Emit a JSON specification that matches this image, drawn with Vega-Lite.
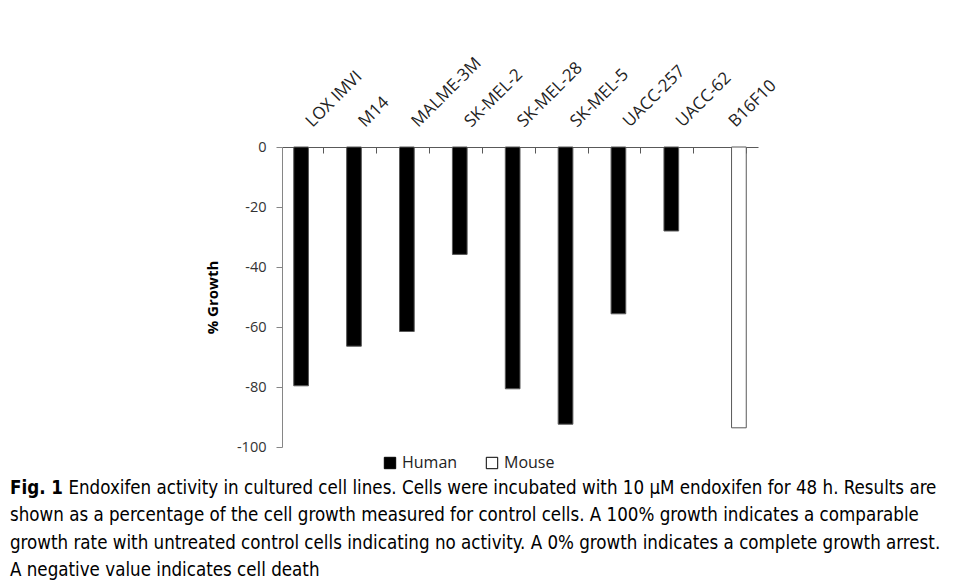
{
  "$schema": "https://vega.github.io/schema/vega-lite/v6.json",
  "autosize": "none",
  "width": 476,
  "height": 300,
  "padding": {"left": 282, "top": 147, "right": 199, "bottom": 138},
  "background": "white",
  "data": {
    "values": [
      {"cell": "LOX IMVI", "species": "Human", "growth": -79.6},
      {"cell": "M14", "species": "Human", "growth": -66.4},
      {"cell": "MALME-3M", "species": "Human", "growth": -61.5},
      {"cell": "SK-MEL-2", "species": "Human", "growth": -35.8},
      {"cell": "SK-MEL-28", "species": "Human", "growth": -80.6},
      {"cell": "SK-MEL-5", "species": "Human", "growth": -92.4},
      {"cell": "UACC-257", "species": "Human", "growth": -55.6},
      {"cell": "UACC-62", "species": "Human", "growth": -28.0},
      {"cell": "B16F10", "species": "Mouse", "growth": -93.6}
    ]
  },
  "title": {
    "text": "Fig. 1",
    "subtitle": [
      "\u200b\u00a0\u00a0\u00a0\u00a0\u00a0\u00a0\u00a0\u00a0\u00a0\u00a0\u00a0Endoxifen activity in cultured cell lines. Cells were incubated with 10 μM endoxifen for 48 h. Results are",
      "shown as a percentage of the cell growth measured for control cells. A 100% growth indicates a comparable",
      "growth rate with untreated control cells indicating no activity. A 0% growth indicates a complete growth arrest.",
      "A negative value indicates cell death"
    ],
    "orient": "bottom",
    "anchor": "start",
    "frame": "group",
    "dx": -272,
    "offset": 8,
    "font": "DejaVu Sans Condensed",
    "fontSize": 18.6,
    "fontWeight": "bold",
    "color": "black",
    "subtitleFont": "DejaVu Sans Condensed",
    "subtitleFontSize": 18.6,
    "subtitleFontWeight": "normal",
    "subtitleColor": "black",
    "subtitleLineHeight": 27.3,
    "subtitlePadding": -18.6
  },
  "mark": {"type": "bar", "stroke": "#595959", "strokeWidth": 1},
  "encoding": {
    "x": {
      "field": "cell",
      "type": "nominal",
      "sort": null,
      "scale": {"paddingInner": 0.444, "paddingOuter": 0.222},
      "axis": {
        "orient": "top",
        "title": null,
        "labelAngle": -45,
        "labelAlign": "left",
        "labelBaseline": "middle",
        "labelPadding": 29,
        "labelFont": "Open Sans",
        "labelFontSize": 17,
        "labelColor": "#222222",
        "tickBand": "extent",
        "tickSize": -6,
        "tickColor": "#595959",
        "domainColor": "#595959",
        "domainWidth": 1.2
      }
    },
    "xOffset": {
      "field": "species",
      "type": "nominal",
      "scale": {"domain": ["Human", "Mouse"], "paddingInner": 0, "paddingOuter": 0}
    },
    "y": {
      "field": "growth",
      "type": "quantitative",
      "scale": {"domain": [-100, 0], "nice": false},
      "axis": {
        "title": "% Growth",
        "titleFont": "Open Sans",
        "titleFontSize": 15,
        "titleFontWeight": "bold",
        "titleColor": "black",
        "titlePadding": 16,
        "values": [0, -20, -40, -60, -80, -100],
        "labelExpr": "datum.value == 0 ? '0' : '-' + abs(datum.value)",
        "labelFont": "Open Sans",
        "labelFontSize": 14.5,
        "labelColor": "#333333",
        "labelPadding": 10,
        "tickSize": 6,
        "tickColor": "#868686",
        "domainColor": "#868686",
        "grid": false
      }
    },
    "fill": {
      "field": "species",
      "type": "nominal",
      "scale": {"domain": ["Human", "Mouse"], "range": ["black", "white"]},
      "legend": {
        "title": null,
        "orient": "none",
        "legendX": 100,
        "legendY": 308,
        "direction": "horizontal",
        "symbolType": "square",
        "symbolSize": 130,
        "symbolStrokeColor": "black",
        "symbolStrokeWidth": 1,
        "labelFont": "Open Sans",
        "labelFontSize": 16,
        "labelColor": "#222222",
        "columnPadding": 26,
        "labelOffset": 4
      }
    }
  },
  "config": {"view": {"stroke": null}}
}
